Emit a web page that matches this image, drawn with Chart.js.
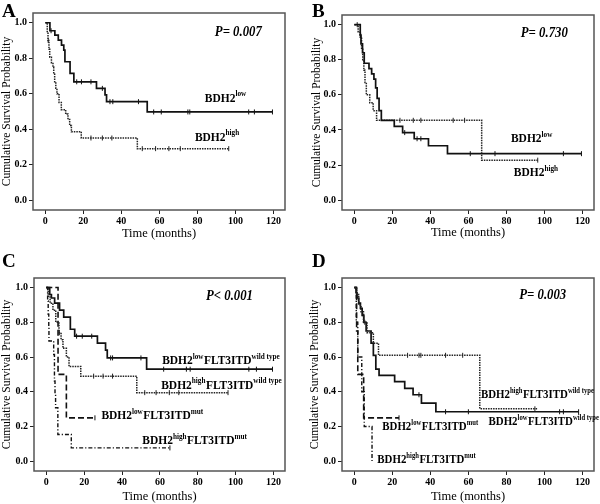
<!DOCTYPE html>
<html>
<head>
<meta charset="utf-8">
<script src="https://cdn.jsdelivr.net/npm/chart.js@4.4.0/dist/chart.umd.min.js"></script>
<style>
    html, body { margin: 0; padding: 0; background: #fff; }
    #wrap { position: relative; width: 600px; height: 504px; overflow: hidden; }
    canvas { position: absolute; }
    .tag { position: absolute; font: bold 19px "Liberation Serif", serif; line-height: 1; color: #000; }
</style>
</head>
<body>
<div id="wrap">
    <canvas id="chartA" width="300" height="252" style="left:0;top:0"></canvas>
    <canvas id="chartB" width="300" height="252" style="left:300px;top:0"></canvas>
    <canvas id="chartC" width="300" height="252" style="left:0;top:252px"></canvas>
    <canvas id="chartD" width="300" height="252" style="left:300px;top:252px"></canvas>
    <div class="tag" style="left:2px;top:1px">A</div>
    <div class="tag" style="left:312px;top:1px">B</div>
    <div class="tag" style="left:2px;top:251px">C</div>
    <div class="tag" style="left:312px;top:251px">D</div>
</div>
<script>
const xTicks = [0, 20, 40, 60, 80, 100, 120];
const yTicks = [0, 0.2, 0.4, 0.6, 0.8, 1.0];

// A: all patients
const aLowTime = [0, 2.4, 5.0, 6.8, 8.5, 9.7, 10.3, 13.0, 15.0, 26.9, 31.4, 32.2, 53.6, 119.5];
const aLowSurv = [1, 0.955, 0.93, 0.902, 0.874, 0.846, 0.78, 0.715, 0.667, 0.63, 0.593, 0.555, 0.497, 0.497];
const aLowCensor = [3, 16.5, 19, 24, 30, 34, 35.5, 49, 57, 61, 75, 76, 107, 110, 119.5];
const aHighTime = [0, 1.0, 1.4, 1.9, 2.3, 3.2, 4.0, 4.4, 4.9, 5.5, 6.1, 7.2, 8.4, 10.7, 11.9, 12.8, 13.7, 18.9, 48.4, 96.5];
const aHighSurv = [1, 0.95, 0.9, 0.85, 0.805, 0.775, 0.75, 0.71, 0.66, 0.63, 0.6, 0.55, 0.51, 0.485, 0.455, 0.42, 0.385, 0.35, 0.29, 0.29];
const aHighCensor = [1.5, 24, 30, 35, 51, 58, 65, 71, 96.5];

// B
const bLowTime = [0, 3.1, 3.5, 4.3, 5.2, 7.7, 9.1, 10.3, 11.2, 12.0, 13.0, 14.2, 21.0, 25.4, 31.5, 39.0, 49.0, 119.5];
const bLowSurv = [1, 0.94, 0.89, 0.84, 0.78, 0.75, 0.72, 0.69, 0.64, 0.58, 0.51, 0.455, 0.42, 0.385, 0.35, 0.31, 0.265, 0.265];
const bLowCensor = [3.3, 26.5, 33, 35, 61, 74, 110, 119.5];
const bHighTime = [0, 2.0, 3.0, 3.8, 4.4, 5.0, 5.6, 6.3, 8.1, 9.9, 11.7, 67.0, 96.5];
const bHighSurv = [1, 0.96, 0.93, 0.86, 0.8, 0.74, 0.67, 0.6, 0.555, 0.51, 0.455, 0.228, 0.228];
const bHighCensor = [1.5, 24, 31, 35, 52, 58, 96.5];

// C: by FLT3ITD
const cLowWtTime = [0, 1.8, 2.7, 4.4, 7.0, 9.2, 12.7, 15.0, 27.0, 31.3, 32.2, 53.0, 119.5];
const cLowWtSurv = [1, 0.96, 0.94, 0.91, 0.87, 0.83, 0.76, 0.72, 0.68, 0.64, 0.595, 0.53, 0.53];
const cLowWtCensor = [16, 19, 24, 34, 35, 50, 62, 74, 76, 107, 111, 119.5];
const cHighWtTime = [0, 1.0, 2.0, 3.5, 5.0, 6.7, 7.8, 8.8, 10.6, 12.0, 18.2, 47.8, 96];
const cHighWtSurv = [1, 0.95, 0.91, 0.87, 0.8, 0.74, 0.7, 0.65, 0.6, 0.545, 0.49, 0.395, 0.395];
const cHighWtCensor = [6.9, 25, 30, 35, 52, 58, 65, 70, 96];
const cLowMutTime = [0, 6.2, 10.6, 25.7];
const cLowMutSurv = [1, 0.5, 0.25, 0.25];
const cLowMutCensor = [25.7];
const cHighMutTime = [0, 0.7, 1.0, 1.3, 1.4, 3.9, 4.3, 4.6, 4.9, 6.1, 13.2, 65.3];
const cHighMutSurv = [1, 0.923, 0.846, 0.769, 0.692, 0.615, 0.462, 0.385, 0.308, 0.154, 0.077, 0.077];
const cHighMutCensor = [65.3];

// D
const dHighWtTime = [0, 1.2, 2.3, 3.5, 4.8, 6.7, 10.0, 12.7, 66.0, 96.5];
const dHighWtSurv = [1, 0.96, 0.9, 0.86, 0.8, 0.74, 0.68, 0.61, 0.302, 0.302];
const dHighWtCensor = [5.5, 28, 34, 35, 48, 57, 95];
const dLowWtTime = [0, 0.9, 1.4, 2.3, 3.2, 4.1, 5.0, 6.2, 8.8, 10.0, 11.3, 13.0, 21.2, 26.5, 30.9, 35.3, 42.9, 118];
const dLowWtSurv = [1, 0.97, 0.94, 0.91, 0.88, 0.84, 0.8, 0.75, 0.68, 0.61, 0.53, 0.495, 0.458, 0.42, 0.383, 0.335, 0.285, 0.285];
const dLowWtCensor = [34, 48, 60, 108, 110, 118];
const dLowMutTime = [0, 1.2, 1.8, 4.9, 23.5];
const dLowMutSurv = [1, 0.75, 0.5, 0.25, 0.25];
const dLowMutCensor = [23.5];
const dHighMutTime = [0, 1.0, 1.8, 3.9, 5.2, 9.3];
const dHighMutSurv = [1, 0.8, 0.6, 0.4, 0.2, 0];

const pValues = ['P= 0.007', 'P= 0.730', 'P< 0.001', 'P= 0.003'];
const lowLabel = ['BDH2', 'low'];
const highLabel = ['BDH2', 'high'];
const lowWtLabel = ['BDH2', 'low', 'FLT3ITD', 'wild type'];
const highWtLabel = ['BDH2', 'high', 'FLT3ITD', 'wild type'];
const lowMutLabel = ['BDH2', 'low', 'FLT3ITD', 'mut'];
const highMutLabel = ['BDH2', 'high', 'FLT3ITD', 'mut'];

const lineStyles = {
    solid: {borderDash: [], borderWidth: 1.7, color: '#111'},
    dotted: {borderDash: [1.5, 1], borderWidth: 1.5, color: '#222'},
    dashed: {borderDash: [6, 3], borderWidth: 1.6, color: '#111'},
    dashdot: {borderDash: [4, 2, 1.2, 2], borderWidth: 1.4, color: '#111'}
};

function survAt(times, surv, t) {
    let s = surv[0];
    times.forEach((tt, i) => { if (tt <= t) s = surv[i]; });
    return s;
}

function buildDatasets(series) {
    let sets = [];
    series.forEach(sr => {
        let st = lineStyles[sr.style];
        sets.push({
            type: 'line',
            data: sr.t.map((t, i) => ({x: t, y: sr.s[i]})),
            stepped: true,
            borderColor: st.color,
            borderWidth: st.borderWidth,
            borderDash: st.borderDash,
            pointRadius: 0,
            fill: false
        });
        if (sr.c) {
            sets.push({
                type: 'scatter',
                data: sr.c.map(t => ({x: t, y: survAt(sr.t, sr.s, t)})),
                showLine: false,
                pointStyle: 'line',
                rotation: 90,
                pointRadius: 2.5,
                borderColor: st.color,
                borderWidth: 1
            });
        }
    });
    return sets;
}

// condensed bold serif, like the figure's lettering
function drawCondensed(ctx, text, px, py, size, style) {
    ctx.save();
    ctx.translate(px, py);
    ctx.scale(0.85, 1);
    ctx.font = style + ' ' + size + 'px "Liberation Serif"';
    ctx.fillText(text, 0, 0);
    const w = ctx.measureText(text).width * 0.85;
    ctx.restore();
    return w;
}

function makeOverlay(panel) {
    return {
        id: 'overlay',
        afterDatasetsDraw(chart) {
            const ctx = chart.ctx;
            const a = chart.chartArea;
            const x = chart.scales.x, y = chart.scales.y;
            ctx.save();
            ctx.strokeStyle = '#555';
            ctx.lineWidth = 1.5;
            ctx.strokeRect(a.left, a.top, a.right - a.left, a.bottom - a.top);
            ctx.fillStyle = '#000';
            ctx.textBaseline = 'middle';
            drawCondensed(ctx, panel.pText, x.getPixelForValue(panel.pAt[0]), y.getPixelForValue(panel.pAt[1]), 15, 'italic bold');
            panel.labels.forEach(l => {
                let px = x.getPixelForValue(l.at[0]);
                const py = y.getPixelForValue(l.at[1]);
                l.parts.forEach((p, i) => {
                    const sup = i % 2 === 1;
                    px += drawCondensed(ctx, p, px, sup ? py - 4 : py, sup ? panel.supSize : panel.textSize, 'bold') + (sup ? 0.5 : 0);
                });
            });
            ctx.restore();
        }
    };
}

const panels = [
    {
        id: 'chartA', box: [33, 13, 285, 210], xTitlePad: 11, yTitlePad: 0, textSize: 13.5, supSize: 8.5,
        series: [
            {t: aLowTime, s: aLowSurv, c: aLowCensor, style: 'solid'},
            {t: aHighTime, s: aHighSurv, c: aHighCensor, style: 'dotted'}
        ],
        pText: pValues[0], pAt: [89.2, 0.948],
        labels: [{parts: lowLabel, at: [83.9, 0.575]}, {parts: highLabel, at: [78.7, 0.355]}]
    },
    {
        id: 'chartB', box: [42, 15, 294, 210], xTitlePad: 12, yTitlePad: 10, textSize: 13.5, supSize: 8.5,
        series: [
            {t: bLowTime, s: bLowSurv, c: bLowCensor, style: 'solid'},
            {t: bHighTime, s: bHighSurv, c: bHighCensor, style: 'dotted'}
        ],
        pText: pValues[1], pAt: [87.6, 0.953],
        labels: [{parts: lowLabel, at: [82.4, 0.349]}, {parts: highLabel, at: [83.9, 0.155]}]
    },
    {
        id: 'chartC', box: [34, 26, 285, 219], xTitlePad: 0, yTitlePad: 0, textSize: 13.5, supSize: 8.5,
        series: [
            {t: cLowWtTime, s: cLowWtSurv, c: cLowWtCensor, style: 'solid'},
            {t: cHighWtTime, s: cHighWtSurv, c: cHighWtCensor, style: 'dotted'},
            {t: cLowMutTime, s: cLowMutSurv, c: cLowMutCensor, style: 'dashed'},
            {t: cHighMutTime, s: cHighMutSurv, c: cHighMutCensor, style: 'dashdot'}
        ],
        pText: pValues[2], pAt: [84.4, 0.95],
        labels: [
            {parts: lowWtLabel, at: [61.2, 0.58]},
            {parts: highWtLabel, at: [60.7, 0.438]},
            {parts: lowMutLabel, at: [29.1, 0.262]},
            {parts: highMutLabel, at: [50.7, 0.12]}
        ]
    },
    {
        id: 'chartD', box: [42, 26, 294, 219], xTitlePad: 0, yTitlePad: 8, textSize: 12.8, supSize: 7.8,
        series: [
            {t: dHighWtTime, s: dHighWtSurv, c: dHighWtCensor, style: 'dotted'},
            {t: dLowWtTime, s: dLowWtSurv, c: dLowWtCensor, style: 'solid'},
            {t: dLowMutTime, s: dLowMutSurv, c: dLowMutCensor, style: 'dashed'},
            {t: dHighMutTime, s: dHighMutSurv, c: null, style: 'dashdot'}
        ],
        pText: pValues[3], pAt: [86.8, 0.959],
        labels: [
            {parts: highWtLabel, at: [66.6, 0.381]},
            {parts: lowWtLabel, at: [70.6, 0.226]},
            {parts: lowMutLabel, at: [14.7, 0.2]},
            {parts: highMutLabel, at: [12.1, 0.008]}
        ]
    }
];

const tickFont = {family: 'Liberation Serif', size: 10, weight: 'bold'};

panels.forEach(panel => {
    const [L, T, R, B] = panel.box;
    new Chart(document.getElementById(panel.id), {
        type: 'line',
        data: {datasets: buildDatasets(panel.series)},
        plugins: [makeOverlay(panel)],
        options: {
            responsive: false,
            animation: false,
            events: [],
            layout: {padding: {left: 0, top: T, right: 300 - R, bottom: 0}},
            plugins: {legend: {display: false}, tooltip: {enabled: false}},
            scales: {
                x: {
                    type: 'linear', min: -6.5, max: 126.1,
                    afterBuildTicks: s => { s.ticks = xTicks.map(v => ({value: v})); },
                    afterFit: s => { s.height = 252 - B; },
                    grid: {drawOnChartArea: false, tickLength: 4, color: '#222'},
                    border: {display: false},
                    ticks: {font: tickFont, color: '#000', padding: 1, maxRotation: 0},
                    title: {display: true, text: 'Time (months)', color: '#000',
                        font: {family: 'Liberation Serif', size: 12.5}, padding: {top: 0, bottom: panel.xTitlePad}}
                },
                y: {
                    type: 'linear', min: -0.056, max: 1.055,
                    afterBuildTicks: s => { s.ticks = yTicks.map(v => ({value: v})); },
                    afterFit: s => { s.width = L; },
                    grid: {drawOnChartArea: false, tickLength: 4, color: '#222'},
                    border: {display: false},
                    ticks: {font: tickFont, color: '#000', padding: 2, callback: v => v.toFixed(1)},
                    title: {display: true, text: 'Cumulative Survival Probability', color: '#000',
                        font: {family: 'Liberation Serif', size: 11.5}, padding: {top: panel.yTitlePad, bottom: 0}}
                }
            }
        }
    });
});
</script>
</body>
</html>
